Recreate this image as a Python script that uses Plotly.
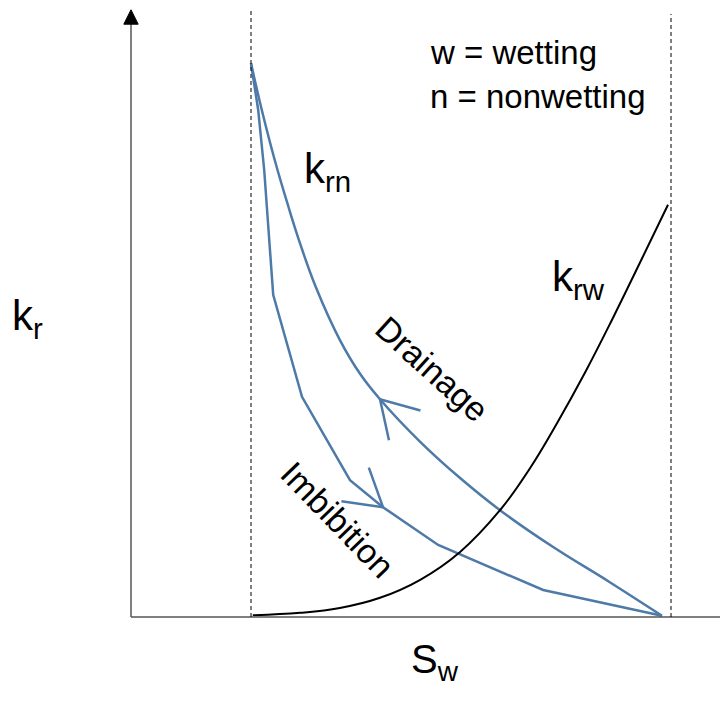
import numpy as np
import plotly.graph_objects as go

# Drainage curve (k_rn), imbibition curve (k_rn), wetting-phase curve (k_rw)
sw_drain = [0.200, 0.218, 0.240, 0.262, 0.282, 0.308, 0.348, 0.382, 0.415, 0.482, 0.548, 0.615, 0.703, 0.798, 0.885]
kr_drain = [0.923, 0.845, 0.760, 0.685, 0.622, 0.550, 0.462, 0.405, 0.363, 0.292, 0.232, 0.178, 0.117, 0.058, 0.002]

sw_imb = [0.200, 0.212, 0.222, 0.230, 0.237, 0.285, 0.365, 0.420, 0.512, 0.687, 0.885]
kr_imb = [0.923, 0.845, 0.745, 0.628, 0.537, 0.367, 0.228, 0.183, 0.120, 0.045, 0.002]

sw_krw = [0.203, 0.282, 0.348, 0.415, 0.482, 0.548, 0.615, 0.665, 0.710, 0.757, 0.803, 0.848, 0.895]
kr_krw = [0.003, 0.007, 0.015, 0.032, 0.062, 0.108, 0.178, 0.248, 0.323, 0.408, 0.498, 0.590, 0.687]

sw_irreducible = 0.2
sw_max = 0.9

BLUE = "#4e7aa8"

def chevron(xs, ys, i, j, half_angle_deg=31, length=0.07):
    # open arrowhead at point i pointing away from point j
    tx, ty = xs[i], ys[i]
    ang = np.arctan2(ys[j] - ty, xs[j] - tx)
    h = np.radians(half_angle_deg)
    a1 = (tx + length * np.cos(ang + h), ty + length * np.sin(ang + h))
    a2 = (tx + length * np.cos(ang - h), ty + length * np.sin(ang - h))
    return [a1[0], tx, a2[0]], [a1[1], ty, a2[1]]

fig = go.Figure()
fig.add_trace(go.Scatter(x=sw_drain, y=kr_drain, mode="lines",
                         line=dict(color=BLUE, width=2.5, shape="spline", smoothing=1.2),
                         hoverinfo="skip"))
fig.add_trace(go.Scatter(x=sw_imb, y=kr_imb, mode="lines",
                         line=dict(color=BLUE, width=2.5), hoverinfo="skip"))
fig.add_trace(go.Scatter(x=sw_krw, y=kr_krw, mode="lines",
                         line=dict(color="black", width=2, shape="spline", smoothing=1.2),
                         hoverinfo="skip"))

cx, cy = chevron(sw_drain, kr_drain, 8, 9)
fig.add_trace(go.Scatter(x=cx, y=cy, mode="lines", line=dict(color=BLUE, width=2.5), hoverinfo="skip"))
cx, cy = chevron(sw_imb, kr_imb, 7, 6)
fig.add_trace(go.Scatter(x=cx, y=cy, mode="lines", line=dict(color=BLUE, width=2.5), hoverinfo="skip"))

shapes = [
    # axes
    dict(type="line", xref="x", yref="y", x0=0, y0=0, x1=0, y1=1.0, line=dict(color="#555", width=1.5)),
    dict(type="line", xref="x", yref="y", x0=0, y0=0, x1=0.99, y1=0, line=dict(color="#555", width=1.5)),
    dict(type="path", xref="x", yref="y", path="M -0.012,0.988 L 0.012,0.988 L 0,1.012 Z",
         fillcolor="black", line=dict(color="black", width=1)),
    dict(type="path", xref="x", yref="y", path="M 0.987,0.013 L 0.987,-0.013 L 1.011,0 Z",
         fillcolor="black", line=dict(color="black", width=1)),
    # dashed limits
    dict(type="line", xref="x", yref="y", x0=sw_irreducible, y0=0, x1=sw_irreducible, y1=1.015,
         line=dict(color="black", width=1, dash="4px,3px")),
    dict(type="line", xref="x", yref="y", x0=sw_max, y0=0, x1=sw_max, y1=1.005,
         line=dict(color="black", width=1, dash="4px,3px")),
]

FONT = "Arial, Liberation Sans, sans-serif"
ann = [
    dict(x=0.495, y=0.941, text="w = wetting", xanchor="left", yanchor="middle", font=dict(size=33)),
    dict(x=0.495, y=0.8675, text="n = nonwetting", xanchor="left", yanchor="middle", font=dict(size=33)),
    dict(x=0.328, y=0.742, text="k<sub>rn</sub>", font=dict(size=42)),
    dict(x=0.745, y=0.562, text="k<sub>rw</sub>", font=dict(size=42)),
    dict(x=-0.172, y=0.498, text="k<sub>r</sub>", font=dict(size=42)),
    dict(x=0.507, y=-0.075, text="S<sub>w</sub>", font=dict(size=40)),
    dict(x=0.502, y=0.413, text="Drainage", textangle=42, font=dict(size=34)),
    dict(x=0.345, y=0.162, text="Imbibition", textangle=46, font=dict(size=34)),
]
for a in ann:
    a.update(xref="x", yref="y", showarrow=False)
    a["font"].update(family=FONT, color="black")

# page body has an 8px margin; ranges compensate so the axes land where the reference has them
fig.update_layout(
    width=728, height=709,
    margin=dict(l=0, r=0, t=0, b=0),
    paper_bgcolor="white", plot_bgcolor="white",
    showlegend=False,
    xaxis=dict(range=[-123/600, 605/600], visible=False, fixedrange=True),
    yaxis=dict(range=[-100/600, 609/600], visible=False, fixedrange=True),
    shapes=shapes,
    annotations=ann,
)
fig.write_html("out.html")
